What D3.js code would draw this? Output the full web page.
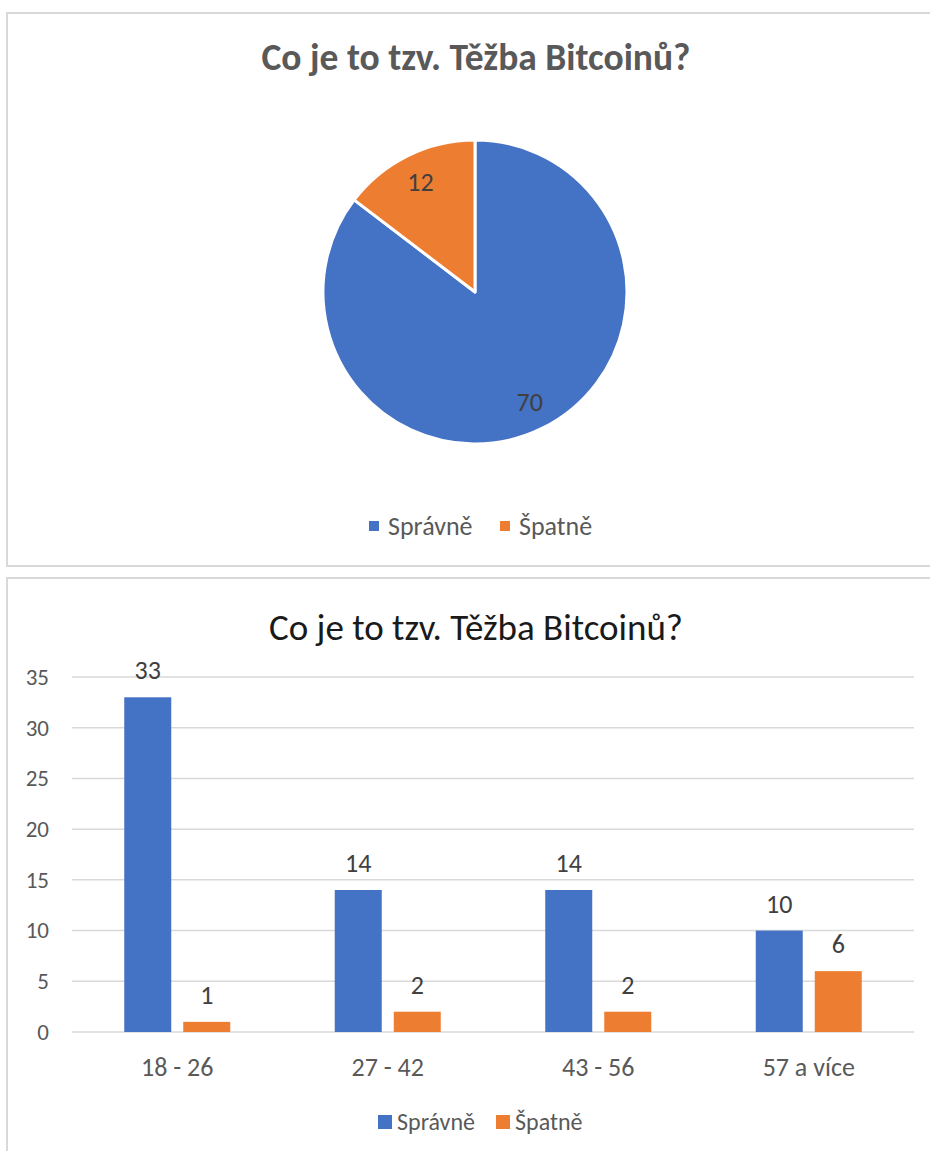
<!DOCTYPE html>
<html>
<head>
<meta charset="utf-8">
<script src="https://cdn.jsdelivr.net/npm/d3@7"></script>
<style>
  html, body { margin: 0; padding: 0; background: #fff; }
  svg { display: block; font-family: Carlito, Lato, "Open Sans", sans-serif; }
</style>
</head>
<body>
<svg id="chart" width="930" height="1151"></svg>
<script>
const titleText = "Co je to tzv. Těžba Bitcoinů?";
const seriesNames = ["Správně", "Špatně"];
const seriesColors = ["#4472C4", "#ED7D31"];
const pieValues = [70, 12];
const categories = ["18 - 26", "27 - 42", "43 - 56", "57 a více"];
const spravne = [33, 14, 14, 10];
const spatne = [1, 2, 2, 6];
const yTicks = [0, 5, 10, 15, 20, 25, 30, 35];

const FONT = "Carlito, Lato, 'Open Sans', sans-serif";
const svg = d3.select("#chart");

// panel borders
svg.append("path")
  .attr("d", "M931,13 H7 V566 H931")
  .attr("fill", "none").attr("stroke", "#d9d9d9").attr("stroke-width", 2);
svg.append("path")
  .attr("d", "M931,578 H7 V1152")
  .attr("fill", "none").attr("stroke", "#d9d9d9").attr("stroke-width", 2);

// ---------- PIE ----------
const pieG = svg.append("g").attr("transform", "translate(475,292)");
const radius = 152;
svg.append("text")
  .attr("x", 476).attr("y", 70)
  .attr("text-anchor", "middle")
  .attr("font-size", 37.5).attr("font-weight", "bold")
  .attr("fill", "#595959")
  .text(titleText);

const pie = d3.pie().sort(null).value(d => d.value);
const pieData = pie(pieValues.map((v, i) => ({ name: seriesNames[i], value: v, i })));
const arc = d3.arc().innerRadius(0).outerRadius(radius);
pieG.selectAll("path.slice").data(pieData).join("path")
  .attr("class", "slice")
  .attr("d", arc)
  .attr("fill", d => seriesColors[d.data.i])
  .attr("stroke", "#fff").attr("stroke-width", 3).attr("stroke-linejoin", "round");

const labelArc = d3.arc().innerRadius(radius * 0.81).outerRadius(radius * 0.81);
pieG.selectAll("text.lbl").data(pieData).join("text")
  .attr("class", "lbl")
  .attr("transform", d => `translate(${labelArc.centroid(d)})`)
  .attr("text-anchor", "middle").attr("dy", "0.35em")
  .attr("font-size", 26).attr("fill", "#404040")
  .text(d => d.data.value);

// pie legend
const legTop = svg.append("g");
const legTopItems = [{x: 369, tx: 388}, {x: 500, tx: 519}];
seriesNames.forEach((n, i) => {
  legTop.append("rect").attr("x", legTopItems[i].x).attr("y", 521)
    .attr("width", 10).attr("height", 10).attr("fill", seriesColors[i]);
  legTop.append("text").attr("x", legTopItems[i].tx).attr("y", 535)
    .attr("font-size", 26).attr("fill", "#595959").text(n);
});

// ---------- BAR ----------
svg.append("text")
  .attr("x", 476).attr("y", 640)
  .attr("text-anchor", "middle")
  .attr("font-size", 37)
  .attr("fill", "#1a1a1a")
  .text(titleText);

const x0 = d3.scaleBand().domain(categories).range([72, 914]).paddingInner(0).paddingOuter(0);
const y = d3.scaleLinear().domain([0, 35]).range([1032, 677]);
const barW = 47, gap = 12;

// gridlines
svg.append("g").selectAll("line").data(yTicks).join("line")
  .attr("x1", 72).attr("x2", 914)
  .attr("y1", d => y(d)).attr("y2", d => y(d))
  .attr("stroke", "#d9d9d9").attr("stroke-width", 1.5);

// y axis
const yAxis = d3.axisLeft(y).tickValues(yTicks).tickSize(0).tickPadding(0);
const yg = svg.append("g").attr("transform", "translate(49,0)").call(yAxis);
yg.select(".domain").remove();
yg.selectAll("text").attr("font-size", 23).attr("fill", "#595959")
  .attr("font-family", FONT);

// x axis labels
const xAxis = d3.axisBottom(x0).tickSize(0).tickPadding(0);
const xg = svg.append("g").attr("transform", "translate(0,1058)").call(xAxis);
xg.select(".domain").remove();
xg.selectAll("text").attr("font-size", 26).attr("fill", "#595959")
  .attr("font-family", FONT);

const series = [spravne, spatne];
series.forEach((vals, s) => {
  const g = svg.append("g");
  const offs = s === 0 ? -(gap / 2 + barW) : gap / 2;
  g.selectAll("rect").data(vals).join("rect")
    .attr("x", (d, i) => x0(categories[i]) + x0.bandwidth() / 2 + offs)
    .attr("y", d => y(d))
    .attr("width", barW)
    .attr("height", d => y(0) - y(d))
    .attr("fill", seriesColors[s]);
  g.selectAll("text").data(vals).join("text")
    .attr("x", (d, i) => x0(categories[i]) + x0.bandwidth() / 2 + offs + barW / 2)
    .attr("y", d => y(d) - 18)
    .attr("text-anchor", "middle")
    .attr("font-size", 26).attr("fill", "#404040")
    .text(d => d);
});

// bar legend
const legBot = svg.append("g");
const legBotItems = [{x: 378, tx: 397}, {x: 496, tx: 515}];
seriesNames.forEach((n, i) => {
  legBot.append("rect").attr("x", legBotItems[i].x).attr("y", 1115)
    .attr("width", 14).attr("height", 14).attr("fill", seriesColors[i]);
  legBot.append("text").attr("x", legBotItems[i].tx).attr("y", 1130)
    .attr("font-size", 24).attr("fill", "#595959").text(n);
});
</script>
</body>
</html>
